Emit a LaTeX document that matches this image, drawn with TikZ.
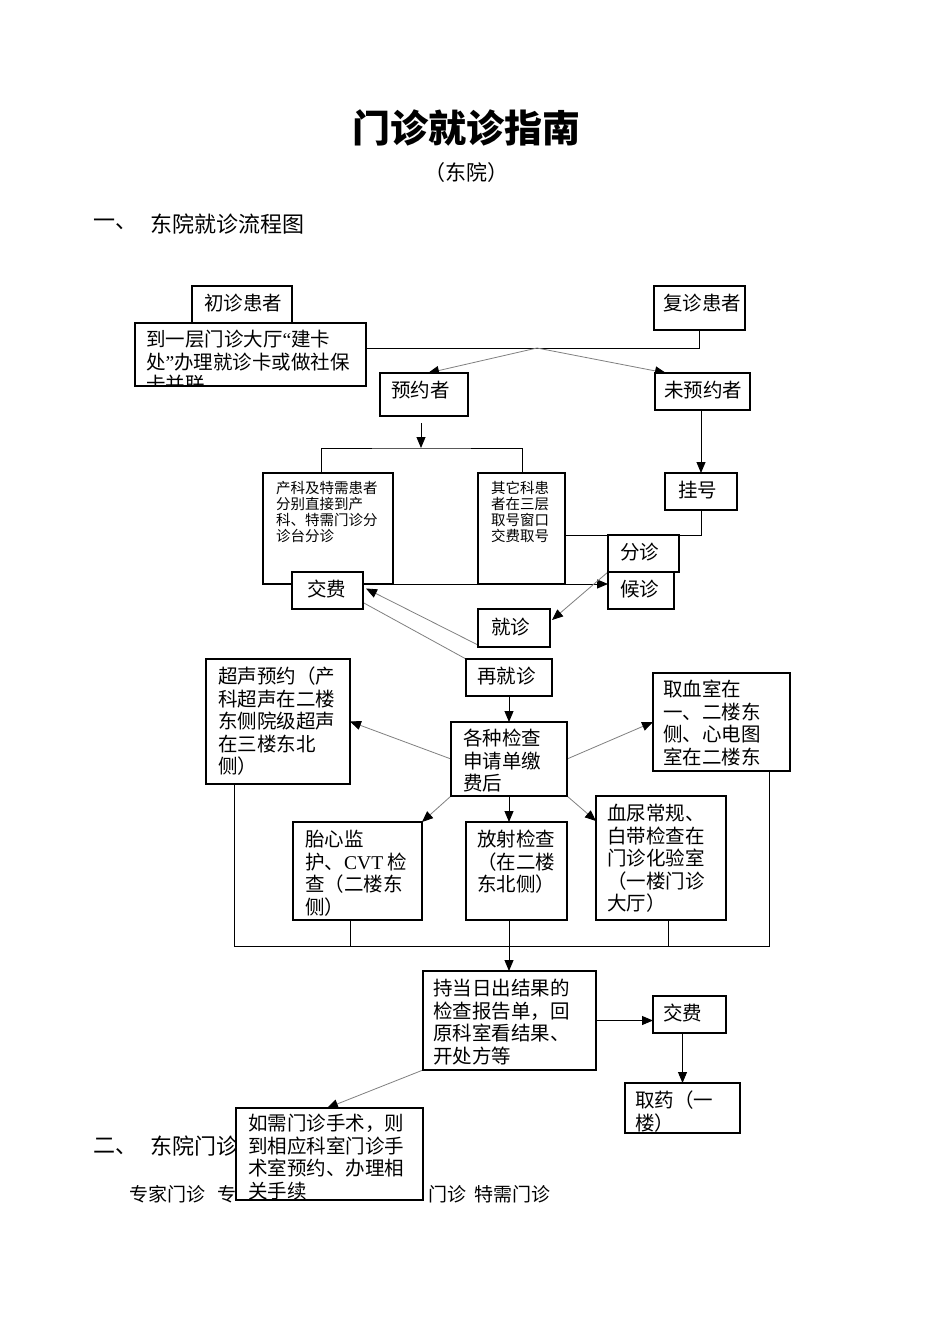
\documentclass[tikz,border=0pt]{standalone}
\usepackage{fontspec}
\setmainfont{Liberation Serif}
\newfontfamily\cjk{Noto Sans CJK SC}
\usetikzlibrary{arrows.meta,calc}
\pgfdeclarelayer{paper}
\pgfdeclarelayer{back}
\pgfdeclarelayer{lines}
\pgfsetlayers{paper,back,lines,main}
\tikzset{
  box/.style={draw=black, line width=1.2pt, fill=white, inner sep=0pt, outer sep=0pt, anchor=north west},
  bt/.style={font=\cjk\fontsize{19.5}{22.5}\selectfont, align=left, inner sep=0pt, anchor=north west},
  st/.style={font=\cjk\fontsize{14.5}{16}\selectfont, align=left, inner sep=0pt, anchor=north west},
  ht/.style={font=\cjk\fontsize{22}{26}\selectfont, inner sep=0pt, anchor=west},
  ln/.style={draw=black, line width=0.9pt},
  dl/.style={draw=black!50, line width=0.8pt},
  arr/.style={-{Triangle[length=11pt,width=9pt,color=black]}}
}
\newcommand\mybox[5]{\pgfmathsetmacro\mybw{#4-#2}\pgfmathsetmacro\mybh{#5-#3}%
  \node[box, minimum width=\mybw pt, minimum height=\mybh pt] (#1) at (#2,#3) {};}
\begin{document}
\begin{tikzpicture}[x=1pt,y=-1pt]
\begin{pgfonlayer}{paper}
\fill[white] (0,0) rectangle (950,1344);
\end{pgfonlayer}
\useasboundingbox (0,0) rectangle (950,1344);
% boxes
\mybox{cz}{192}{286}{292}{323}
\mybox{fz}{654}{286}{745}{330}
\mybox{dao}{135}{323}{366}{386}
\mybox{yy}{380}{373}{468}{416}
\mybox{wfy}{655}{373}{750}{410}
\mybox{ck}{263}{473}{393}{584}
\mybox{qt}{478}{473}{565}{584}
\mybox{gh}{665}{473}{737}{510}
\mybox{fenz}{608}{535}{679}{572}
\mybox{hz}{608}{572}{674}{609}
\mybox{jf}{292}{572}{363}{609}
\mybox{jz}{478}{609}{550}{647}
\mybox{zjz}{466}{659}{552}{696}
\mybox{cs}{206}{659}{350}{784}
\mybox{gz}{451}{722}{567}{796}
\mybox{qx}{653}{673}{790}{771}
\mybox{tx}{293}{822}{422}{920}
\mybox{fs}{466}{822}{567}{920}
\mybox{xn}{596}{796}{726}{920}
\mybox{cr}{423}{971}{596}{1070}
\mybox{jf2}{653}{996}{726}{1033}
\mybox{qy}{625}{1083}{740}{1133}
\mybox{rx}{236}{1108}{423}{1200}
% box texts
\node[bt] (czt) at (204,294) {初诊患者};
\node[bt] (fzt) at (663,294) {复诊患者};
\begin{scope}
\clip (136,324) rectangle (365,385);
\node[bt] (daot) at (146,330) {到一层门诊大厅{\rmfamily “}建卡\\处{\rmfamily ”}办理就诊卡或做社保\\卡并联};
\end{scope}
\node[bt] (yyt) at (391,381) {预约者};
\node[bt] (wfyt) at (664,381) {未预约者};
\node[st] (ckt) at (276,481.5) {产科及特需患者\\分别直接到产\\科、特需门诊分\\诊台分诊};
\node[st] (qtt) at (491,481.5) {其它科患\\者在三层\\取号窗口\\交费取号};
\node[bt] (ght) at (678,481) {挂号};
\node[bt] (fenzt) at (620,543) {分诊};
\node[bt] (hzt) at (620,580) {候诊};
\node[bt] (jft) at (307,580) {交费};
\node[bt] (jzt) at (491,618) {就诊};
\node[bt] (zjzt) at (477,667) {再就诊};
\node[bt] (cst) at (218,667) {超声预约（产\\科超声在二楼\\东侧院级超声\\在三楼东北\\侧）};
\node[bt] (gzt) at (463,729) {各种检查\\申请单缴\\费后};
\node[bt] (qxt) at (663,680) {取血室在\\一、二楼东\\侧、心电图\\室在二楼东};
\node[bt] (txt) at (305,830) {胎心监\\护、{\rmfamily CVT} 检\\查（二楼东\\侧）};
\node[bt] (fst) at (477,830) {放射检查\\（在二楼\\东北侧）};
\node[bt] (xnt) at (607,804) {血尿常规、\\白带检查在\\门诊化验室\\（一楼门诊\\大厅）};
\node[bt] (crt) at (433,979) {持当日出结果的\\检查报告单，回\\原科室看结果、\\开处方等};
\node[bt] (jf2t) at (663,1004) {交费};
\node[bt] (qyt) at (635,1091) {取药（一\\楼）};
\node[bt] (rxt) at (248,1114) {如需门诊手术，则\\到相应科室门诊手\\术室预约、办理相\\关手续};
% connectors
\begin{pgfonlayer}{lines}
\coordinate (j1) at (537,348);
\draw[ln] (dao.east |- j1) -- (fz.south |- j1) -- (fz.south);
\draw[dl,arr] (j1) -- ($(yy.north west)+(48,0)$);
\draw[dl,arr] (j1) -- ($(wfy.north west)+(11,0)$);
\coordinate (a1) at (421,423);
\coordinate (a2) at (421,448);
\draw[ln,arr] (a1) -- (a2);
\draw[ln] ($(ck.north west)+(58,0)$) |- (a2) -| ($(qt.north west)+(44,0)$);
\draw[ln,arr] (wfy.south -| gh.north) -- (gh.north);
\draw[ln] (gh.south) |- (qt.east |- fenz.north);
\draw[ln,arr] (ck.south west) -- (ck.south west -| hz.west);
\draw[dl,arr] (fenz.south west) -- ($(jz.east)+(2,-8)$);
\draw[dl,arr] ($(jz.south west)+(0,-2)$) -- ($(jf.east)+(3,-2)$);
\draw[dl] ($(jf.east)+(0,12)$) -- (zjz.north west);
\draw[ln,arr] (zjz.south) -- (gz.north);
\draw[dl,arr] (gz.west) -- (cs.east);
\draw[dl,arr] (gz.east) -- (qx.west);
\draw[dl,arr] (gz.south west) -- (tx.north east);
\draw[ln,arr] (gz.south) -- (gz.south |- fs.north);
\draw[dl,arr] (gz.south east) -- ($(xn.north west)+(0,25)$);
\coordinate (cl) at (0,946);
\path ($(cs.south west)+(28,0)$) coordinate (p1) ($(qx.south east)+(-21,0)$) coordinate (p2);
\draw[ln] (p1) -- (p1 |- cl) -- (p2 |- cl) -- (p2);
\draw[ln] ($(tx.south west)+(57,0)$) -- ++(0,26);
\draw[ln] ($(xn.south west)+(72,0)$) -- ++(0,26);
\draw[ln,arr] (gz.south |- fs.south) -- (gz.south |- cr.north);
\draw[ln,arr] (cr.east) -- (cr.east -| jf2.west);
\draw[ln,arr] (qy.north |- jf2.south) -- (qy.north);
\draw[dl,arr] (cr.south west) -- ($(rx.north west)+(91,0)$);
\end{pgfonlayer}
% page text
\begin{pgfonlayer}{back}
\node[font=\cjk\bfseries\fontsize{38}{42}\selectfont, inner sep=0pt] (title) at (466,128) {门诊就诊指南};
\node[font=\cjk\fontsize{21}{24}\selectfont, inner sep=0pt] (sub) at (466,173) {（东院）};
\node[ht] (h1a) at (93,224) {一、};
\node[ht] (h1b) at (150,224) {东院就诊流程图};
\node[ht] (h2a) at (93,1146) {二、};
\node[ht] (h2b) at (150,1146) {东院门诊};
\node[font=\cjk\fontsize{19}{22}\selectfont, inner sep=0pt, anchor=west] (row1) at (129,1194) {专家门诊\hspace{12pt}专};
\node[font=\cjk\fontsize{19}{22}\selectfont, inner sep=0pt, anchor=east] (row2) at (551,1194) {门诊\hspace{8pt}特需门诊};
\end{pgfonlayer}
\end{tikzpicture}
\end{document}
